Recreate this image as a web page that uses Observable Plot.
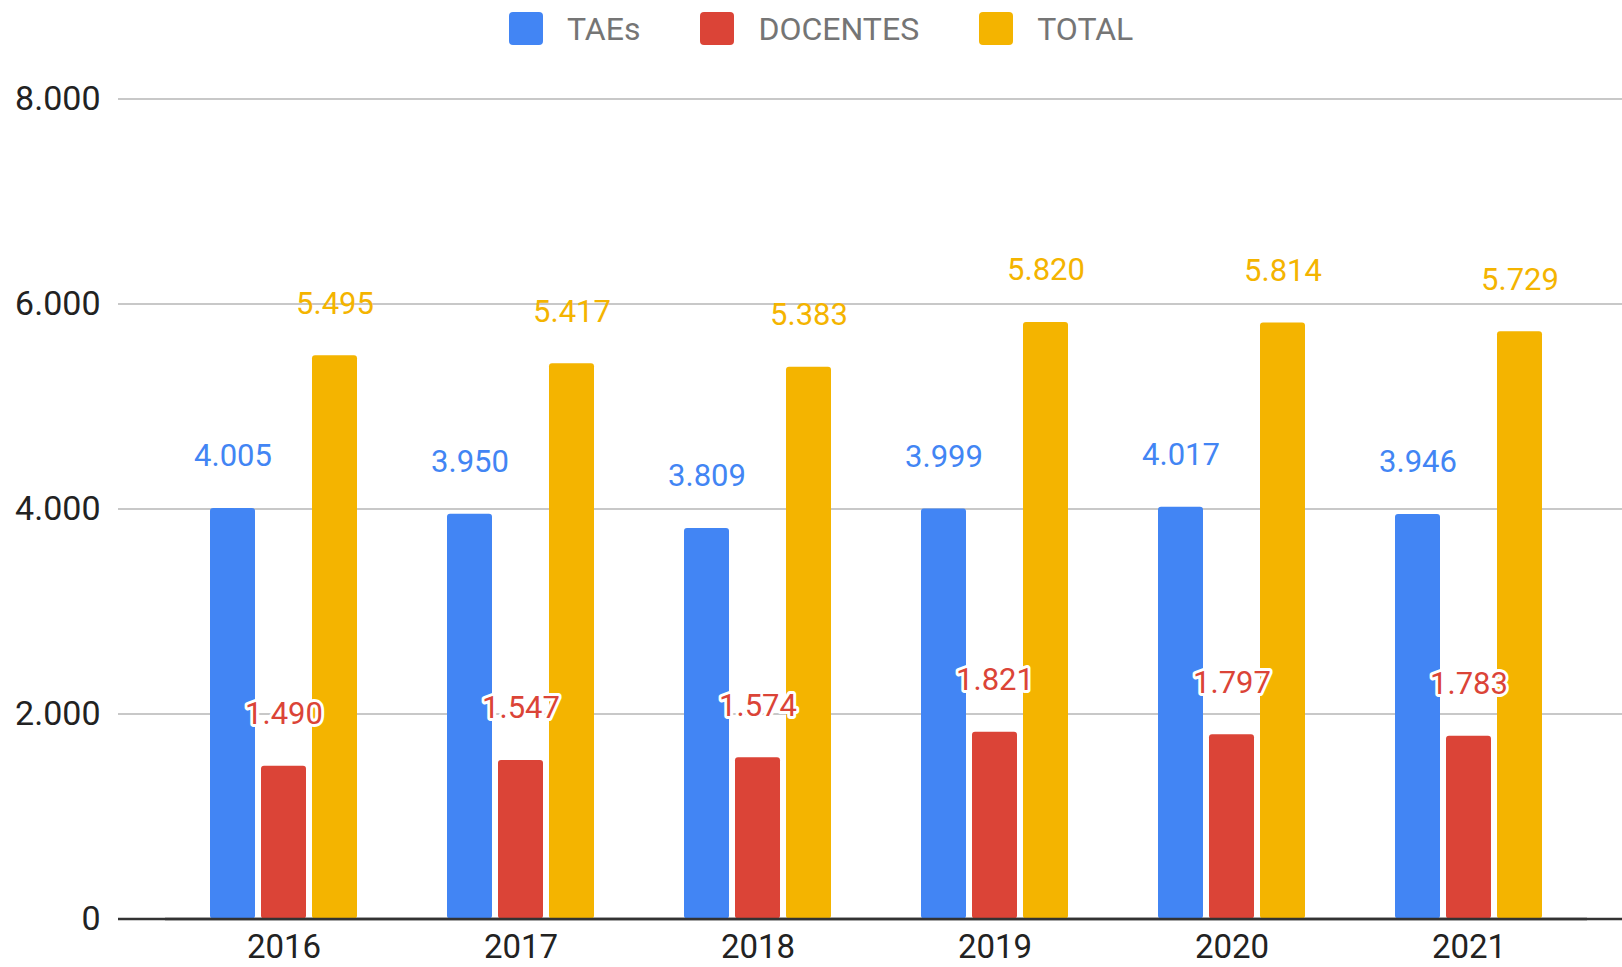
<!DOCTYPE html>
<html>
<head>
<meta charset="utf-8">
<script src="https://cdn.jsdelivr.net/npm/d3@7"></script>
<script src="https://cdn.jsdelivr.net/npm/@observablehq/plot@0.6"></script>
<style>
  html, body { margin: 0; padding: 0; background: #fff; overflow: hidden; }
  #legend { height: 57px; display: flex; align-items: center; }
  #legend .lg-swatches { display: flex !important; align-items: center; margin: 0 0 0 509px !important;
    font-family: Roboto, sans-serif !important; font-size: 32px !important; color: #757575 !important; min-height: 0 !important; }
  #legend .lg-swatch { display: inline-flex !important; align-items: center; margin-right: 60px !important; }
  #legend .lg-swatch > svg { margin-right: 24px !important; }
  #legend .lg-swatch rect { rx: 4px; ry: 4px; }
  #chart { position: relative; width: 1622px; height: 910px; }
  #chart > svg { position: absolute; left: 0; top: 0; }
</style>
</head>
<body>
<div id="legend"></div>
<div id="chart"></div>
<script>
const years = ["2016", "2017", "2018", "2019", "2020", "2021"];
const seriesNames = ["TAEs", "DOCENTES", "TOTAL"];
const seriesColors = ["#4285F4", "#DB4437", "#F4B400"];
const taes = [4005, 3950, 3809, 3999, 4017, 3946];
const docentes = [1490, 1547, 1574, 1821, 1797, 1783];
const total = [5495, 5417, 5383, 5820, 5814, 5729];
const yTicks = [0, 2000, 4000, 6000, 8000];

const seriesValues = [taes, docentes, total];
const rows = [];
years.forEach((year, i) => {
  seriesNames.forEach((s, j) => rows.push({year, series: s, value: seriesValues[j][i]}));
});

const fmt = d3.formatLocale({decimal: ",", thousands: ".", grouping: [3], currency: ["R$", ""]}).format(",d");

const W = 1622, H = 910;
const common = {
  width: W, height: H,
  marginLeft: 118, marginRight: 0, marginTop: 41.5, marginBottom: 48.5,
  style: {fontFamily: "Roboto, sans-serif", fontSize: "34px", color: "#222", background: "transparent", overflow: "visible"}
};

// Background: grid, y axis, baseline
const bg = Plot.plot({
  ...common,
  y: {domain: [0, 8000], ticks: yTicks, tickFormat: fmt, tickSize: 0, tickPadding: 18, label: null},
  marks: [
    Plot.ruleY(yTicks.filter(d => d > 0), {stroke: "#c8c8c8", strokeWidth: 2}),
    Plot.ruleY([0], {stroke: "#333", strokeWidth: 2.5})
  ]
});

// Foreground: grouped bars by year facets
const fg = Plot.plot({
  ...common,
  style: {...common.style, fontSize: "33px"},
  facet: {data: rows, x: "year"},
  fx: {domain: years, range: [161.85, 1589.35], padding: 0, label: null, tickSize: 0, tickPadding: 16},
  x: {domain: seriesNames, paddingInner: 0.118, paddingOuter: 0.861, axis: null},
  y: {domain: [0, 8000], axis: null},
  color: {domain: seriesNames, range: seriesColors},
  marks: [
    Plot.barY(rows, {x: "series", y: "value", fill: "series", rx: 3}),
    Plot.ruleY([0], {stroke: "#333", strokeWidth: 2.5}),
    Plot.text(rows, {filter: d => d.series !== "DOCENTES", x: "series", y: "value", text: d => fmt(d.value),
      fill: "series", dy: -52, fontSize: 31}),
    Plot.text(rows, {filter: d => d.series === "DOCENTES", x: "series", y: "value", text: d => fmt(d.value),
      fill: "series", dy: -52, fontSize: 31, stroke: "white", strokeWidth: 6, paintOrder: "stroke"})
  ]
});

document.getElementById("chart").append(bg, fg);

const legend = Plot.legend({
  color: {domain: seriesNames, range: seriesColors},
  legend: "swatches", swatchWidth: 34, swatchHeight: 33, className: "lg"
});
document.getElementById("legend").append(legend);
</script>
</body>
</html>
